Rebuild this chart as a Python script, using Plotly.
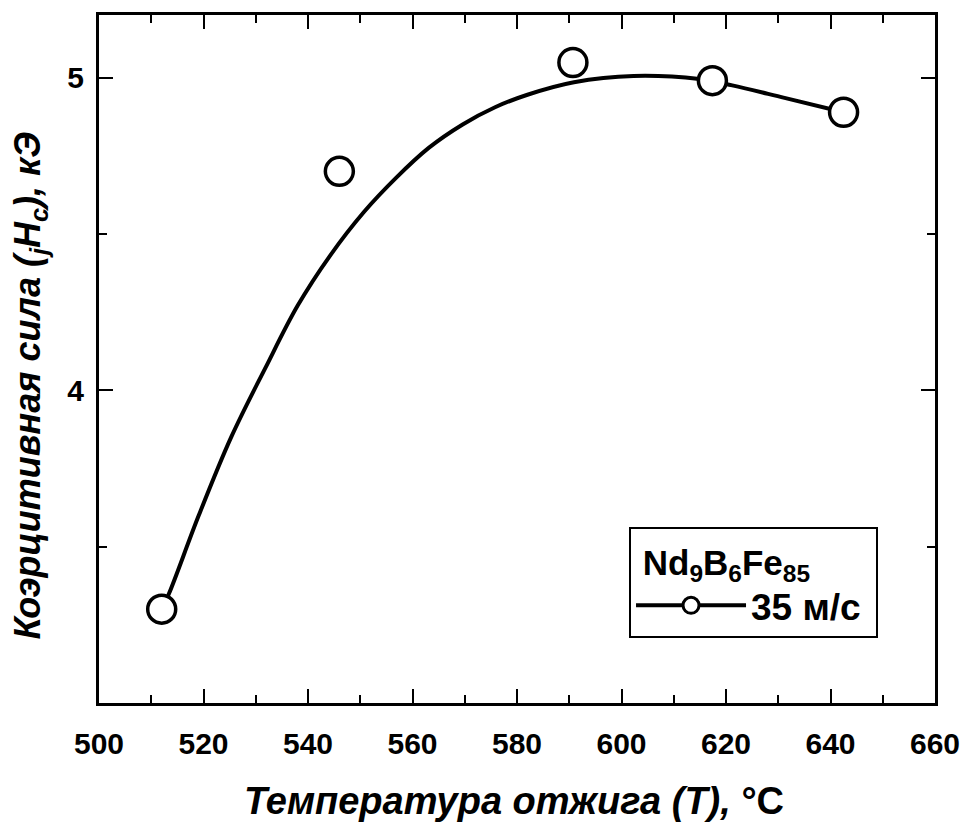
import plotly.graph_objects as go

# measured points
temp_points = [512, 546, 590.7, 617.4, 642.5]
hc_points = [3.30, 4.70, 5.048, 4.99, 4.889]

# smooth guide curve
curve_t = [512, 513.4, 519.1, 525.3, 531.8, 538.0, 544.2, 550.7, 556.9, 563.1,
           569.6, 575.8, 582.0, 590.9, 602.3, 614.9, 621.2, 631.2, 642.5]
curve_hc = [3.30, 3.35, 3.60, 3.85, 4.07, 4.27, 4.43, 4.57, 4.68, 4.775,
            4.85, 4.905, 4.945, 4.985, 5.005, 4.995, 4.975, 4.935, 4.889]

x_range = [500, 660]
y_range = [3.0, 5.2]
y_major = [4, 5]
y_minor = [3.5, 4.5]

series_name = "35 м/с&nbsp;"
legend_title = "&nbsp;Nd<sub>9</sub>B<sub>6</sub>Fe<sub>85</sub>"
x_title = "<b><i>Температура отжига (T),</i> °C</b>"
y_title = "<b><i>Коэрцитивная сила (<sub>j</sub>H<sub>c</sub>), кЭ</i></b>"

FONT = "Liberation Sans, Arial, sans-serif"

fig = go.Figure()
fig.add_trace(go.Scatter(x=curve_t, y=curve_hc, mode="lines", line_shape="spline",
                         line=dict(color="black", width=4), showlegend=False,
                         hoverinfo="skip"))
fig.add_trace(go.Scatter(x=temp_points, y=hc_points, mode="markers",
                         marker=dict(symbol="circle", size=28, color="white",
                                     line=dict(color="black", width=3.5)),
                         showlegend=False))
fig.add_trace(go.Scatter(x=[None], y=[None], mode="lines+markers", name=series_name,
                         line=dict(color="black", width=4),
                         marker=dict(symbol="circle", size=22, color="white",
                                     line=dict(color="black", width=3))))

axis_common = dict(showline=True, linecolor="black", linewidth=3, mirror="allticks",
                   ticks="inside", tickcolor="black", tickwidth=2, ticklen=14,
                   showgrid=False, zeroline=False,
                   tickfont=dict(family=FONT, size=30, color="black", weight="bold"))

fig.update_xaxes(range=x_range, dtick=20, tick0=500, ticklabeloverflow="allow",
                 minor=dict(dtick=10, ticks="inside", ticklen=8, tickwidth=2, tickcolor="black"),
                 ticklabelstandoff=12, **axis_common)
fig.update_yaxes(range=y_range, tickmode="array", tickvals=y_major,
                 minor=dict(tickmode="array", tickvals=y_minor, ticks="inside", ticklen=8,
                            tickwidth=2, tickcolor="black"),
                 ticklabelstandoff=6, **axis_common)

fig.add_annotation(text=x_title, xref="paper", yref="paper", x=0.496, y=-0.143,
                   xanchor="center", yanchor="middle", showarrow=False,
                   font=dict(family=FONT, size=38, color="black"))
fig.add_annotation(text=y_title, xref="paper", yref="paper", x=-0.082, y=0.462,
                   xanchor="center", yanchor="middle", showarrow=False, textangle=-90,
                   font=dict(family=FONT, size=36, color="black"))

fig.update_layout(
    width=972, height=828,
    margin=dict(l=99, r=26, t=14, b=125),
    paper_bgcolor="white", plot_bgcolor="white",
    legend=dict(x=0.634, y=0.2554, xanchor="left", yanchor="top",
                bordercolor="black", borderwidth=2, bgcolor="white",
                itemwidth=110,
                title=dict(text=legend_title, side="top",
                           font=dict(family=FONT, size=35, color="black", weight="bold")),
                font=dict(family=FONT, size=37, color="black", weight="bold")),
)

fig.write_html("out.html", config={"displayModeBar": False},
               post_script="document.body.style.margin='0';")
